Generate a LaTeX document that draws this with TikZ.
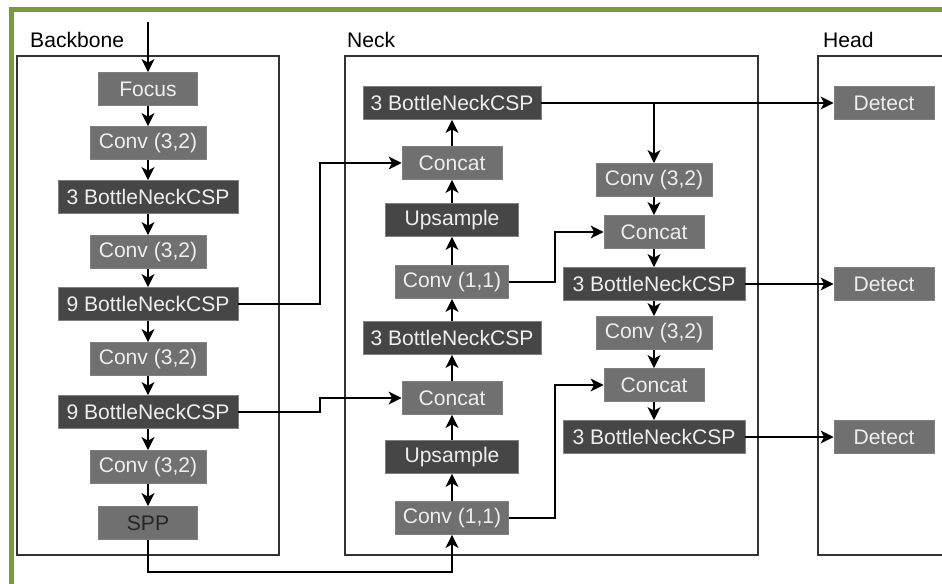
\documentclass[tikz,border=0pt]{standalone}
\usepackage{fontspec}
\setmainfont{Liberation Sans}
\usetikzlibrary{arrows.meta}
\definecolor{frame}{RGB}{122,153,58}
\definecolor{boxlite}{RGB}{112,112,112}
\definecolor{boxdark}{RGB}{70,70,70}
\definecolor{boxtext}{RGB}{238,238,238}
\tikzset{
  >={Stealth[length=11pt,width=11pt,inset=3pt]},
}
\tikzstyle{flow}=[line width=1.4pt,->]
\tikzstyle{group}=[line width=1.4pt,draw=black!80]
\tikzstyle{lite}=[draw=black!50,line width=0.8pt,fill=boxlite,text=boxtext,minimum height=0.99cm,inner sep=0pt]
\tikzstyle{dark}=[lite,fill=boxdark]
\tikzstyle{every node}=[font=\fontsize{18}{21}\selectfont]

\begin{document}
\begin{tikzpicture}[x=0.03cm,y=-0.03cm]
    \clip (0,0) rectangle (942,584);
    \fill[white] (0,0) rectangle (942,584);
    \fill[frame] (9,7) rectangle (942,12);
    \fill[frame] (9,7) rectangle (14,584);
    % groups
    \draw[group] (17,56) rectangle (279,555);
    \draw[group] (345,56) rectangle (758,555);
    \draw[group] (818,56) rectangle (960,555);
    \node[anchor=base west,inner sep=0pt] (lbb) at (30,47) {Backbone};
    \node[anchor=base west,inner sep=0pt] (lnk) at (347,47) {Neck};
    \node[anchor=base west,inner sep=0pt] (lhd) at (823,47) {Head};
    % backbone
    \node[lite,minimum width=2.97cm] (foc) at (148,89) {Focus};
    \node[lite,minimum width=3.48cm] (bc1) at (148,143) {Conv (3,2)};
    \node[dark,minimum width=5.4cm] (bb3) at (148,197) {3 BottleNeckCSP};
    \node[lite,minimum width=3.48cm] (bc2) at (148,252) {Conv (3,2)};
    \node[dark,minimum width=5.4cm] (bb9a) at (148,304) {9 BottleNeckCSP};
    \node[lite,minimum width=3.48cm] (bc3) at (148,359) {Conv (3,2)};
    \node[dark,minimum width=5.4cm] (bb9b) at (148,412) {9 BottleNeckCSP};
    \node[lite,minimum width=3.48cm] (bc4) at (148,467) {Conv (3,2)};
    \node[lite,minimum width=2.97cm,text=black!85] (spp) at (148,523) {SPP};
    % neck, upward column
    \node[dark,minimum width=5.34cm] (nb1) at (452,103) {3 BottleNeckCSP};
    \node[lite,minimum width=3cm] (ncat1) at (452,163) {Concat};
    \node[dark,minimum width=4cm] (nup1) at (452,220) {Upsample};
    \node[lite,minimum width=3.4cm] (nconv1) at (452,282) {Conv (1,1)};
    \node[dark,minimum width=5.34cm] (nb2) at (452,338) {3 BottleNeckCSP};
    \node[lite,minimum width=3cm] (ncat2) at (452,398) {Concat};
    \node[dark,minimum width=4cm] (nup2) at (452,457) {Upsample};
    \node[lite,minimum width=3.4cm] (nconv2) at (452,518) {Conv (1,1)};
    % neck, downward column
    \node[lite,minimum width=3.48cm] (pc1) at (654,180) {Conv (3,2)};
    \node[lite,minimum width=3cm] (pcat1) at (654,232) {Concat};
    \node[dark,minimum width=5.46cm] (pb1) at (654,284) {3 BottleNeckCSP};
    \node[lite,minimum width=3.48cm] (pc2) at (654,333) {Conv (3,2)};
    \node[lite,minimum width=3cm] (pcat2) at (654,385) {Concat};
    \node[dark,minimum width=5.46cm] (pb2) at (654,437) {3 BottleNeckCSP};
    % head
    \node[lite,minimum width=3cm] (det1) at (884,103) {Detect};
    \node[lite,minimum width=3cm] (det2) at (884,284) {Detect};
    \node[lite,minimum width=3cm] (det3) at (884,437) {Detect};
    % connectors
    \coordinate (in) at (148,22);
    \coordinate (jb) at (320,0);
    \coordinate (jn) at (555,0);
    \coordinate (jy) at (0,572);
    \draw[flow] (in) -- (foc);
    \foreach \a/\b in {foc/bc1,bc1/bb3,bb3/bc2,bc2/bb9a,bb9a/bc3,bc3/bb9b,bb9b/bc4,bc4/spp,
      nconv2/nup2,nup2/ncat2,ncat2/nb2,nb2/nconv1,nconv1/nup1,nup1/ncat1,ncat1/nb1,
      pc1/pcat1,pcat1/pb1,pb1/pc2,pc2/pcat2,pcat2/pb2,nb1/det1,pb1/det2,pb2/det3}
      \draw[flow] (\a) -- (\b);
    \draw[flow] (bb9a.east) -- (bb9a.east -| jb) |- (ncat1);
    \draw[flow] (bb9b.east) -- (bb9b.east -| jb) |- (ncat2);
    \draw[flow] (spp) -- (spp |- jy) -| (nconv2);
    \draw[flow] (nconv1.east) -- (nconv1.east -| jn) |- (pcat1);
    \draw[flow] (nconv2.east) -- (nconv2.east -| jn) |- (pcat2);
    \draw[flow] (nb1.east -| pc1) -- (pc1);
\end{tikzpicture}
\end{document}
